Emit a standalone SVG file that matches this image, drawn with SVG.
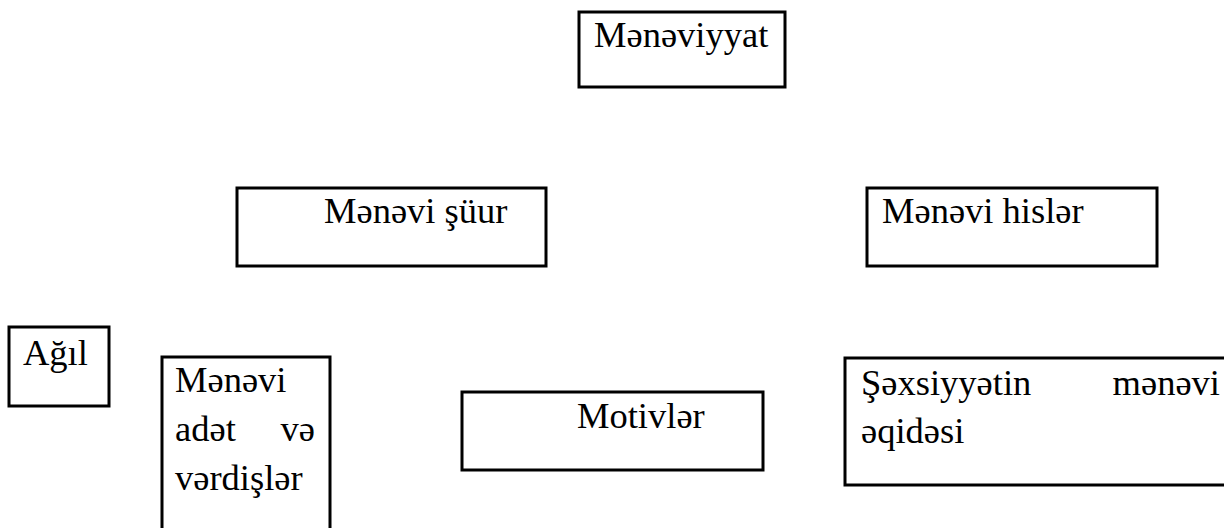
<svg xmlns="http://www.w3.org/2000/svg" width="1224" height="528" viewBox="0 0 1224 528">
<style>
.box{fill:#fff;stroke:#000;stroke-width:3}
.t{font-family:"Liberation Serif","DejaVu Serif",serif;font-size:36.5px;fill:#000}
</style>
<rect width="1224" height="528" fill="#fff"/>
<g id="connectors"></g>
<g id="n1"><rect class="box" x="579" y="12" width="206" height="75"/><text class="t" x="594" y="47">Mənəviyyat</text></g>
<g id="n2"><rect class="box" x="237" y="188" width="309" height="78"/><text class="t" x="324" y="223">Mənəvi şüur</text></g>
<g id="n3"><rect class="box" x="867" y="188" width="290" height="78"/><text class="t" x="882" y="223">Mənəvi hislər</text></g>
<g id="n4"><rect class="box" x="9" y="327" width="100" height="79"/><text class="t" x="23" y="365">Ağıl</text></g>
<g id="n5"><rect class="box" x="162" y="357" width="168" height="180"/><text class="t" x="175" y="392">Mənəvi</text><text class="t" x="175" y="441">adət</text><text class="t" x="315" y="441" text-anchor="end">və</text><text class="t" x="175" y="490">vərdişlər</text></g>
<g id="n6"><rect class="box" x="462" y="392" width="301" height="78"/><text class="t" x="577" y="428">Motivlər</text></g>
<g id="n7"><rect class="box" x="845" y="358" width="400" height="127"/><text class="t" x="861" y="395">Şəxsiyyətin</text><text class="t" x="1220" y="395" text-anchor="end">mənəvi</text><text class="t" x="861" y="443">əqidəsi</text></g>
</svg>
